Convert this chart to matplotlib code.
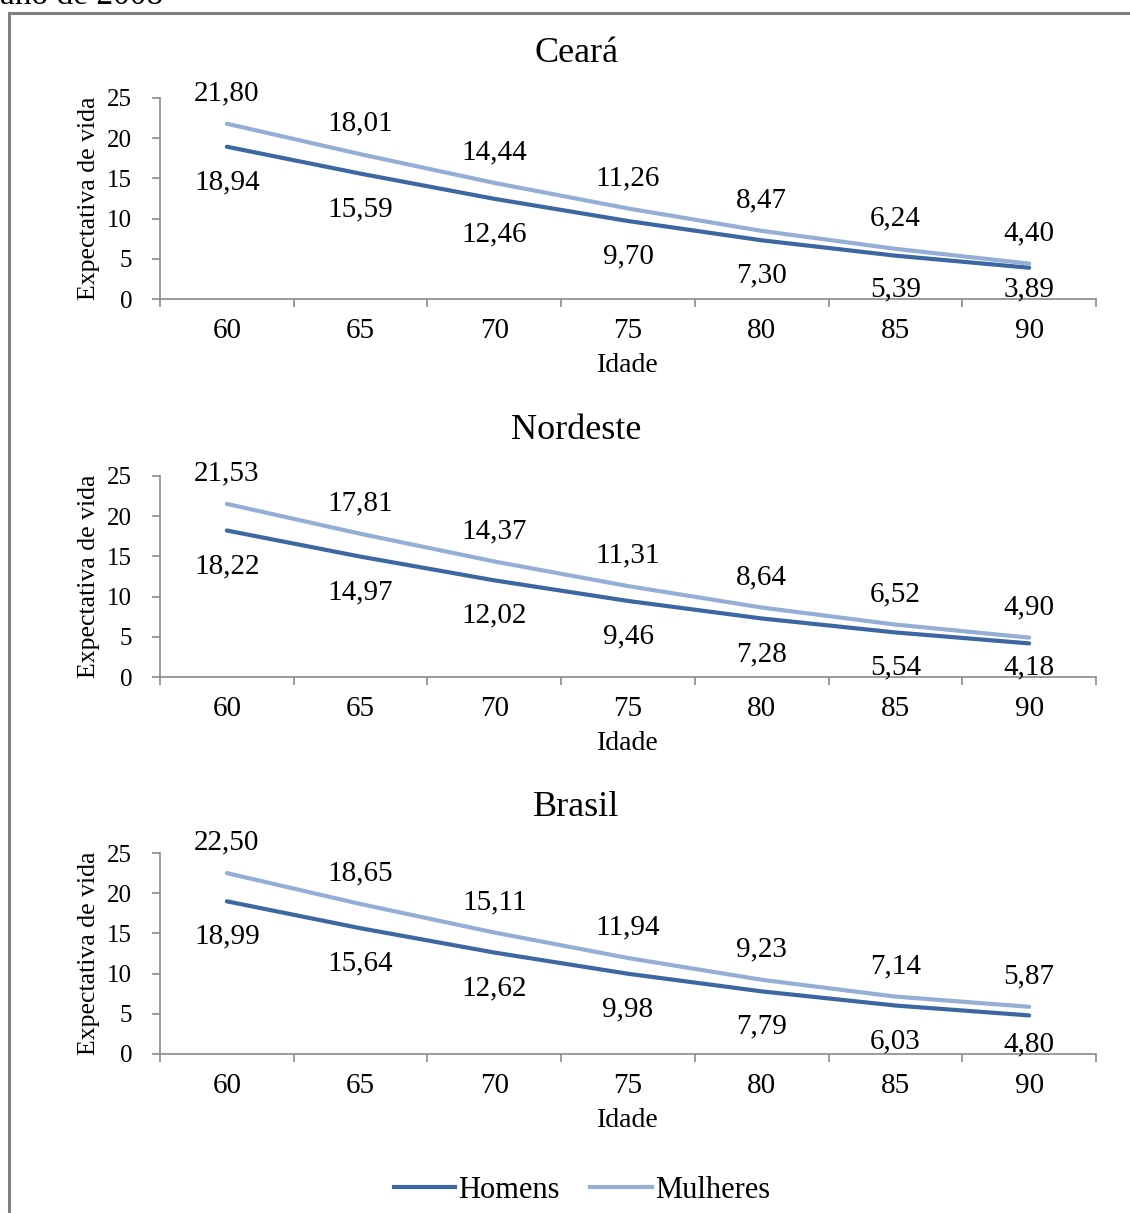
import matplotlib
matplotlib.use('Agg')
import matplotlib.pyplot as plt
from matplotlib.patches import Rectangle
from matplotlib.lines import Line2D

plt.rcParams['font.family'] = ['Liberation Serif', 'DejaVu Serif']

idades = ['60', '65', '70', '75', '80', '85', '90']
regioes = ['Ceará', 'Nordeste', 'Brasil']

homens = {
    'Ceará': [18.94, 15.59, 12.46, 9.70, 7.30, 5.39, 3.89],
    'Nordeste': [18.22, 14.97, 12.02, 9.46, 7.28, 5.54, 4.18],
    'Brasil': [18.99, 15.64, 12.62, 9.98, 7.79, 6.03, 4.80],
}
mulheres = {
    'Ceará': [21.80, 18.01, 14.44, 11.26, 8.47, 6.24, 4.40],
    'Nordeste': [21.53, 17.81, 14.37, 11.31, 8.64, 6.52, 4.90],
    'Brasil': [22.50, 18.65, 15.11, 11.94, 9.23, 7.14, 5.87],
}

cor_h = '#3D67A3'
cor_m = '#94AED5'
cinza = '#8A8A8A'

W, H = 1130, 1213
fig = plt.figure(figsize=(W / 100, H / 100), dpi=100)

# moldura do grafico (cortada pela borda da imagem)
fig.patches.append(Rectangle((9 / W, -0.1), 1.2, 1 - 13 / H + 0.1,
                             transform=fig.transFigure, fill=False,
                             edgecolor='#808080', linewidth=2.2))
fig.text(0.0, 1 - 4 / H, 'ano de 2008', fontsize=24, ha='left', va='baseline')


def fmt(v):
    return f'{v:.2f}'.replace('.', ',')


tops = [98, 476, 853]
titulos_y = [54, 431, 808]
alt = 201
px_por_pt = 100 / 72
for regiao, top, ty in zip(regioes, tops, titulos_y):
    bottom = top + alt
    ax = fig.add_axes([160 / W, 1 - bottom / H, (1096 - 160) / W, alt / H])
    xs = list(range(len(idades)))
    ax.plot(xs, homens[regiao], color=cor_h, lw=3, solid_capstyle='round')
    ax.plot(xs, mulheres[regiao], color=cor_m, lw=3, solid_capstyle='round')
    px_unid = alt / 25
    for x, vh, vm in zip(xs, homens[regiao], mulheres[regiao]):
        ax.annotate(fmt(vm), (x, vm), xytext=(0, 22), textcoords='offset points',
                    ha='center', va='center', fontsize=21)
        # rotulo de baixo nao passa do eixo x
        desl = min(33, vh * px_unid - 12) + 2.5
        ax.annotate(fmt(vh), (x, vh), xytext=(0, -desl / px_por_pt), textcoords='offset points',
                    ha='center', va='center', fontsize=21, annotation_clip=False)

    ax.set_xlim(-0.5, 6.5)
    ax.set_ylim(0, 25)
    ax.set_yticks(range(0, 26, 5))
    ax.set_xticks(xs)
    ax.set_xticklabels(idades)
    ax.set_xticks([i - 0.5 for i in range(len(idades) + 1)], minor=True)
    ax.tick_params(axis='x', which='major', length=0, pad=14, labelsize=21)
    ax.tick_params(axis='x', which='minor', length=6, color=cinza, width=1.2)
    ax.tick_params(axis='y', length=6, color=cinza, width=1.2, labelsize=18, pad=14)
    for s in ['top', 'right']:
        ax.spines[s].set_visible(False)
    for s in ['left', 'bottom']:
        ax.spines[s].set_color(cinza)
        ax.spines[s].set_linewidth(1.2)
    ax.set_ylabel('Expectativa de vida', fontsize=18.5, labelpad=5)
    ax.set_xlabel('Idade', fontsize=20, labelpad=6)
    fig.text(576 / W, 1 - ty / H, regiao, fontsize=26, ha='center', va='center')

handles = [Line2D([], [], color=cor_h, lw=3), Line2D([], [], color=cor_m, lw=3)]
fig.legend(handles, ['Homens', 'Mulheres'], loc='center', bbox_to_anchor=(582 / W, 1 - 1190 / H),
           ncol=2, frameon=False, fontsize=22, handlelength=2.0, handletextpad=0.1,
           columnspacing=1.0)

fig.savefig('out.png', dpi=100)
